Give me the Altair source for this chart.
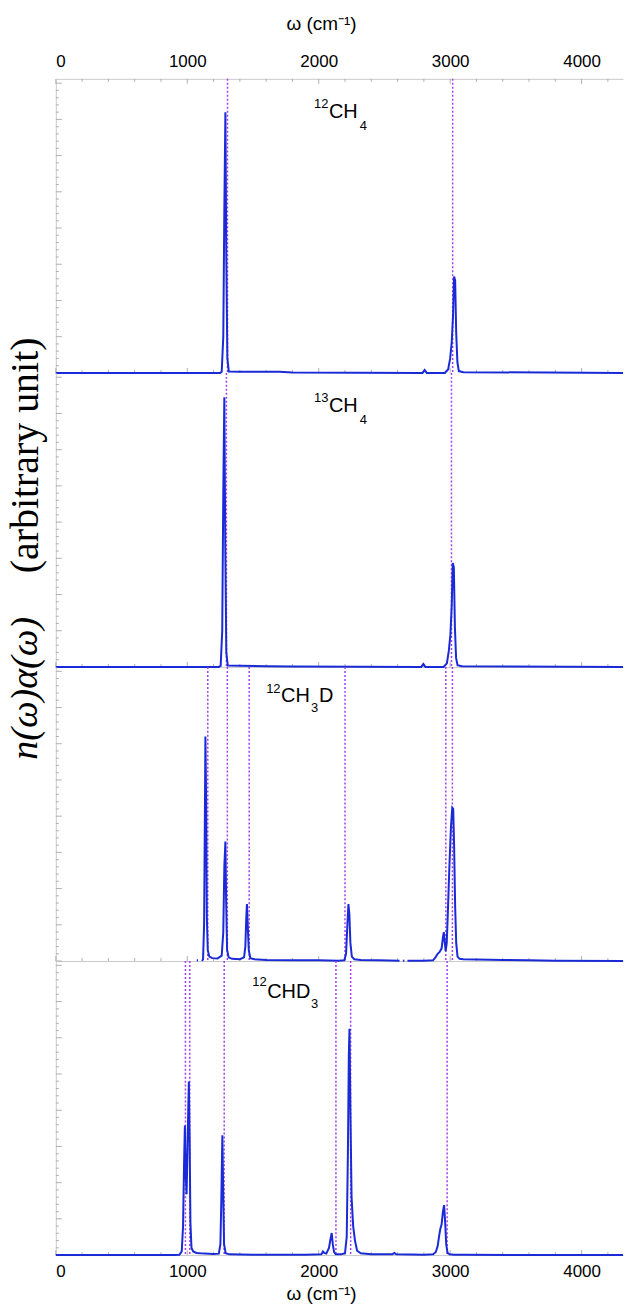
import altair as alt
import pandas as pd

# ---- spectra: (wavenumber cm^-1, intensity in arbitrary units) ----
ch4_12 = [(0, 0), (1250, 0), (1262, 0.03), (1274, 1.0), (1282, 4.5), (1290, 7.2), (1297, 3.2),
          (1305, 0.4), (1316, 0.04), (1400, 0.03), (1520, 0.03), (1600, 0.03), (1700, 0.03),
          (1800, 0.01), (2790, 0.0), (2806, 0.08), (2822, 0.0), (2960, 0.0), (2985, 0.1),
          (3000, 0.4), (3012, 0.85), (3022, 1.6), (3030, 2.66), (3038, 2.55), (3046, 1.1),
          (3055, 0.3), (3066, 0.05), (3100, 0.02), (4315, 0)]

ch4_13 = [(0, 0), (1240, 0), (1254, 0.03), (1266, 1.0), (1274, 4.8), (1282, 7.45), (1289, 3.4),
          (1297, 0.4), (1308, 0.04), (1400, 0.03), (1600, 0.02), (1800, 0.01), (2780, 0),
          (2796, 0.08), (2812, 0), (2950, 0), (2975, 0.1), (2990, 0.45), (3002, 0.9),
          (3012, 1.7), (3020, 2.87), (3028, 2.75), (3036, 1.1), (3045, 0.25), (3056, 0.05),
          (3090, 0.02), (4315, 0)]

# CH3D trace has gaps, so it is stored as separate segments
ch3d_seg1 = [(1072, 0.02), (1082, 0.02)]
ch3d_seg2 = [(1112, 0), (1120, 0.05), (1128, 1.0), (1134, 4.0), (1138, 6.2), (1143, 4.6),
             (1149, 1.2), (1156, 0.3), (1168, 0.12), (1190, 0.08), (1230, 0.07), (1262, 0.15),
             (1274, 0.8), (1282, 2.6), (1290, 3.3), (1296, 1.6), (1303, 0.3), (1315, 0.1),
             (1340, 0.06), (1400, 0.05), (1432, 0.1), (1442, 0.4), (1449, 1.2), (1454, 1.57),
             (1460, 1.0), (1468, 0.3), (1480, 0.08), (1510, 0.05), (1600, 0.03), (1800, 0.02),
             (2000, 0.02), (2150, 0.01), (2195, 0.02), (2208, 0.2), (2218, 1.0), (2226, 1.57),
             (2233, 1.3), (2241, 0.5), (2252, 0.12), (2270, 0.05), (2320, 0.03), (2450, 0.02),
             (2615, 0.01)]
ch3d_seg3 = [(2640, 0.01), (2652, 0.01)]
ch3d_seg4 = [(2675, 0.01), (2800, 0.01), (2870, 0.02), (2888, 0.1), (2905, 0.2), (2920, 0.25),
             (2935, 0.35), (2945, 0.65), (2952, 0.8), (2958, 0.55), (2966, 0.27), (2974, 0.5),
             (2982, 1.3), (2994, 2.6), (3006, 3.7), (3016, 4.23), (3023, 4.2), (3030, 3.2),
             (3038, 1.5), (3046, 0.5), (3056, 0.12), (3072, 0.06), (3100, 0.05), (3200, 0.04),
             (3400, 0.03), (3600, 0.02), (3800, 0.01), (4315, 0.0)]

chd3 = [(0, 0), (900, 0), (940, 0.01), (958, 0.1), (968, 0.8), (976, 2.6), (982, 3.58),
        (988, 2.2), (995, 1.68), (1003, 3.2), (1012, 4.79), (1018, 3.2), (1024, 0.9),
        (1032, 0.2), (1045, 0.1), (1070, 0.06), (1100, 0.05), (1200, 0.03), (1240, 0.04),
        (1252, 0.3), (1259, 1.5), (1267, 3.31), (1273, 1.8), (1280, 0.3), (1292, 0.05),
        (1320, 0.02), (1500, 0.01), (1900, 0.01), (2020, 0.02), (2032, 0.1), (2042, 0.06),
        (2058, 0.04), (2078, 0.2), (2090, 0.45), (2099, 0.61), (2107, 0.3), (2117, 0.08),
        (2130, 0.02), (2170, 0.02), (2200, 0.05), (2213, 0.5), (2222, 2.8), (2229, 5.5),
        (2234, 6.25), (2241, 4.0), (2250, 1.6), (2262, 0.8), (2276, 0.4), (2292, 0.12),
        (2320, 0.05), (2400, 0.02), (2560, 0.02), (2575, 0.06), (2590, 0.02), (2800, 0.01),
        (2870, 0.02), (2890, 0.08), (2905, 0.25), (2917, 0.55), (2925, 0.72), (2935, 0.85),
        (2945, 1.2), (2954, 1.38), (2962, 0.9), (2970, 0.3), (2980, 0.06), (2995, 0.02),
        (3030, 0.01), (3100, 0.01), (3500, 0.0), (4315, 0)]

# ---- reference mode frequencies (dotted lines) ----
modes_ch4_12 = [1306, 3019]
modes_ch4_13 = [1298, 3010]
modes_ch3d = [1156, 1305, 1471, 2200, 2967, 3017]
modes_chd3 = [986, 1019, 1281, 2131, 2243, 2977]

# ---- panel labels: (text, x in cm^-1, y in arbitrary units, font size) ----
label_ch4_12 = [("12", 1964, 7.32, 13), ("CH", 2078, 7.05, 20), ("4", 2313, 6.72, 13)]
label_ch4_13 = [("13", 1964, 7.32, 13), ("CH", 2078, 7.05, 20), ("4", 2313, 6.72, 13)]
label_ch3d = [("12", 1600, 7.40, 13), ("CH", 1714, 7.16, 20), ("3", 1941, 6.88, 13),
              ("D", 2002, 7.16, 20)]
label_chd3 = [("12", 1494, 7.43, 13), ("CHD", 1608, 7.10, 20), ("3", 1941, 6.83, 13)]

# ---- axis ticks ----
x_tick_labels = [0, 1000, 2000, 3000, 4000]
x_minor = [0, 200, 400, 600, 800, 1000, 1200, 1400, 1600, 1800, 2000, 2200, 2400, 2600,
           2800, 3000, 3200, 3400, 3600, 3800, 4000, 4200]
y_major = [0, 1, 2, 3, 4, 5, 6, 7, 8]
y_minor = [round(i * 0.2, 1) for i in range(41)]

X_MAX = 4315
Y_MAX = 8.12
W = 569
H = 295

BLUE = "#1a2ad6"
PURPLE = "#a43cf0"
TICK = "#b0b0b0"
FRAME = "#cacaca"
SANS = "Liberation Sans"
SERIF = "Liberation Serif"

xscale = alt.Scale(domain=[0, X_MAX], nice=False, zero=False)
yscale = alt.Scale(domain=[0, Y_MAX], nice=False)

axis_y = alt.Axis(orient="left", domain=True, domainColor=FRAME, ticks=False, tickSize=0,
                  labels=False, grid=False, title=None)


def make_axis_x(kind):
    common = dict(domain=True, domainColor=FRAME, ticks=False, tickSize=0, grid=False,
                  values=x_tick_labels, format="d", labelFont=SANS, labelFontSize=17,
                  labelColor="black", titleFont=SANS, titleFontSize=19,
                  titleFontWeight="normal", titleColor="black")
    if kind == "top":
        return alt.Axis(orient="top", labels=True, labelPadding=8, titleX=266,
                        titleAlign="center", title="ω (cm⁻¹)", titlePadding=19, **common)
    if kind == "bottom":
        return alt.Axis(orient="bottom", labels=True, labelPadding=8, titleX=266,
                        titleAlign="center", title="ω (cm⁻¹)", titlePadding=6, **common)
    return alt.Axis(orient="bottom", labels=False, title=None, **common)


def panel(segments, modes, label, kind):
    axis_x = make_axis_x(kind)
    rows = []
    for k, seg in enumerate(segments):
        for w, v in seg:
            rows.append({"w": w, "v": v, "seg": k})
    spec = pd.DataFrame(rows)

    line = alt.Chart(spec).mark_line(color=BLUE, strokeWidth=2, clip=False).encode(
        x=alt.X("w:Q", scale=xscale, axis=axis_x),
        y=alt.Y("v:Q", scale=yscale, axis=axis_y),
        detail="seg:N",
        order="w:Q",
    )

    mode_lines = alt.Chart(pd.DataFrame({"w": modes})).mark_rule(
        color=PURPLE, strokeWidth=1.5, strokeDash=[2, 2]
    ).encode(x=alt.X("w:Q", scale=xscale, axis=axis_x))

    # inward tick marks along the bottom edge
    xt = pd.DataFrame({"w": x_minor, "major": [w in x_tick_labels for w in x_minor]})
    bot_minor = alt.Chart(xt[~xt.major]).mark_rule(color=TICK, strokeWidth=1).encode(
        x=alt.X("w:Q", scale=xscale, axis=axis_x), y=alt.value(H), y2=alt.value(H - 3))
    bot_major = alt.Chart(xt[xt.major]).mark_rule(color=TICK, strokeWidth=1).encode(
        x=alt.X("w:Q", scale=xscale, axis=axis_x), y=alt.value(H), y2=alt.value(H - 5))

    # inward tick marks along the left edge
    yt = pd.DataFrame({"v": y_minor, "major": [v in y_major for v in y_minor]})
    left_minor = alt.Chart(yt[~yt.major]).mark_rule(color=TICK, strokeWidth=1).encode(
        y=alt.Y("v:Q", scale=yscale, axis=axis_y), x=alt.value(0), x2=alt.value(3))
    left_major = alt.Chart(yt[yt.major]).mark_rule(color=TICK, strokeWidth=1).encode(
        y=alt.Y("v:Q", scale=yscale, axis=axis_y), x=alt.value(0), x2=alt.value(6))

    lab = pd.DataFrame(label, columns=["t", "w", "v", "fs"])
    text = alt.Chart(lab).mark_text(align="left", baseline="alphabetic", font=SANS,
                                    color="black").encode(
        x=alt.X("w:Q", scale=xscale, axis=axis_x),
        y=alt.Y("v:Q", scale=yscale, axis=axis_y),
        text="t:N",
        size=alt.Size("fs:Q", scale=None, legend=None),
    )

    layers = [bot_minor, bot_major, left_minor, left_major, mode_lines, line, text]

    if kind == "top":
        top_minor = alt.Chart(xt[~xt.major]).mark_rule(color=TICK, strokeWidth=1).encode(
            x=alt.X("w:Q", scale=xscale, axis=axis_x), y=alt.value(0), y2=alt.value(3))
        top_major = alt.Chart(xt[xt.major]).mark_rule(color=TICK, strokeWidth=1).encode(
            x=alt.X("w:Q", scale=xscale, axis=axis_x), y=alt.value(0), y2=alt.value(5))
        layers += [top_minor, top_major]

    if kind == "y-title":
        one = pd.DataFrame({"k": [0]})
        title_math = alt.Chart(one).mark_text(
            text="n(ω)α(ω)", font=SERIF, fontStyle="italic", fontSize=38, angle=270,
            align="left", baseline="middle", color="black"
        ).encode(x=alt.value(-30), y=alt.value(H + 93))
        title_unit = alt.Chart(one).mark_text(
            text="(arbitrary unit)", font=SERIF, fontSize=40, angle=270,
            align="left", baseline="middle", color="black"
        ).encode(x=alt.value(-30), y=alt.value(H - 94))
        layers += [title_math, title_unit]

    return alt.layer(*layers).properties(width=W, height=H)


p1 = panel([ch4_12], modes_ch4_12, label_ch4_12, "top")
p2 = panel([ch4_13], modes_ch4_13, label_ch4_13, "y-title")
p3 = panel([ch3d_seg1, ch3d_seg2, ch3d_seg3, ch3d_seg4], modes_ch3d, label_ch3d, "mid")
p4 = panel([chd3], modes_chd3, label_chd3, "bottom")

chart = alt.vconcat(p1, p2, p3, p4, spacing=0, bounds="flush").properties(
    padding={"left": 5, "top": 13, "right": 0, "bottom": 0}
).configure_view(stroke=None)

chart.save("out.html", embed_options={"renderer": "svg", "actions": False})
